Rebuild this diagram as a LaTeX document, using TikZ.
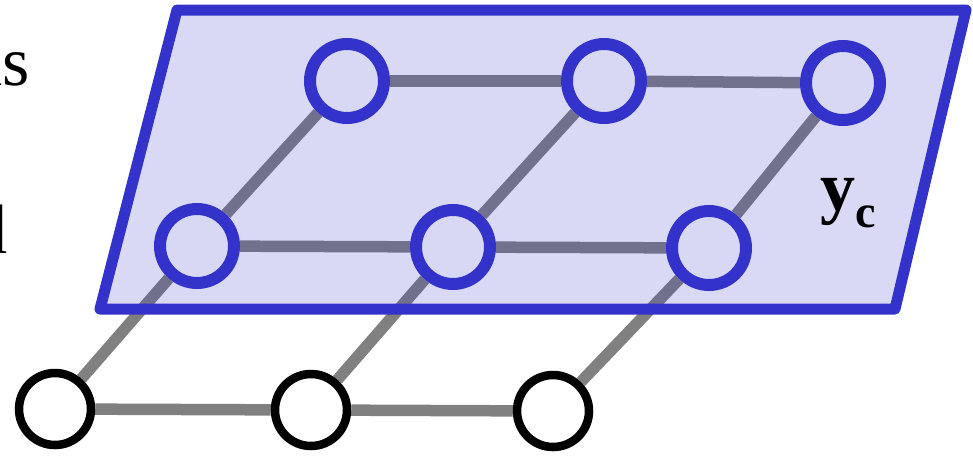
\documentclass[tikz,border=0pt]{standalone}
\usepackage{fontspec}
\setmainfont{Liberation Serif}
\usetikzlibrary{backgrounds}
\definecolor{planeblue}{RGB}{51,51,204}
\definecolor{circfill}{RGB}{216,216,245}
\definecolor{edgegray}{RGB}{128,128,128}
\tikzset{
  bluenode/.style={circle, draw=planeblue, fill=circfill, line width=12pt, minimum size=74pt, inner sep=0pt},
  blacknode/.style={circle, draw=black, fill=white, line width=8.5pt, minimum size=72pt, inner sep=0pt},
  edge/.style={draw=edgegray, line width=11.5pt},
  plane/.style={draw=planeblue, line width=11pt, line join=round, fill=planeblue, fill opacity=0.19, draw opacity=1},
  bigtext/.style={inner sep=0pt, font=\fontsize{70}{74}\selectfont}
}
\begin{document}
\begin{tikzpicture}[x=1pt,y=-1pt]
\clip (0,0) rectangle (973,455);
% nodes
\node[bluenode] (t1) at (347,81) {};
\node[bluenode] (t2) at (604,81) {};
\node[bluenode] (t3) at (843,83) {};
\node[bluenode] (m1) at (197,246) {};
\node[bluenode] (m2) at (453,247) {};
\node[bluenode] (m3) at (709,248) {};
\node[blacknode] (b1) at (55,409) {};
\node[blacknode] (b2) at (311,410) {};
\node[blacknode] (b3) at (553,411) {};
% label
\node[anchor=base west, inner sep=0pt, font=\fontsize{70}{70}\selectfont\bfseries] (yc) at (820,210) {y\raisebox{-17pt}{\fontsize{46}{46}\selectfont c}};
% cropped text at left
\node[bigtext, anchor=base east] (txt1) at (30,85) {as};
\node[bigtext, anchor=base east] (txt2) at (8,253) {d};
\begin{scope}[on background layer]
  \draw[edge] (t1) -- (t2);
  \draw[edge] (t2) -- (t3);
  \draw[edge] (m1) -- (m2);
  \draw[edge] (m2) -- (m3);
  \draw[edge] (b1) -- (b2);
  \draw[edge] (b2) -- (b3);
  \draw[edge] (b1) -- (m1);
  \draw[edge] (m1) -- (t1);
  \draw[edge] (b2) -- (m2);
  \draw[edge] (m2) -- (t2);
  \draw[edge] (b3) -- (m3);
  \draw[edge] (m3) -- (t3);
  \path[plane] (177,10) -- (966,10) -- (895,309) -- (100,309) -- cycle;
\end{scope}
\end{tikzpicture}
\end{document}
